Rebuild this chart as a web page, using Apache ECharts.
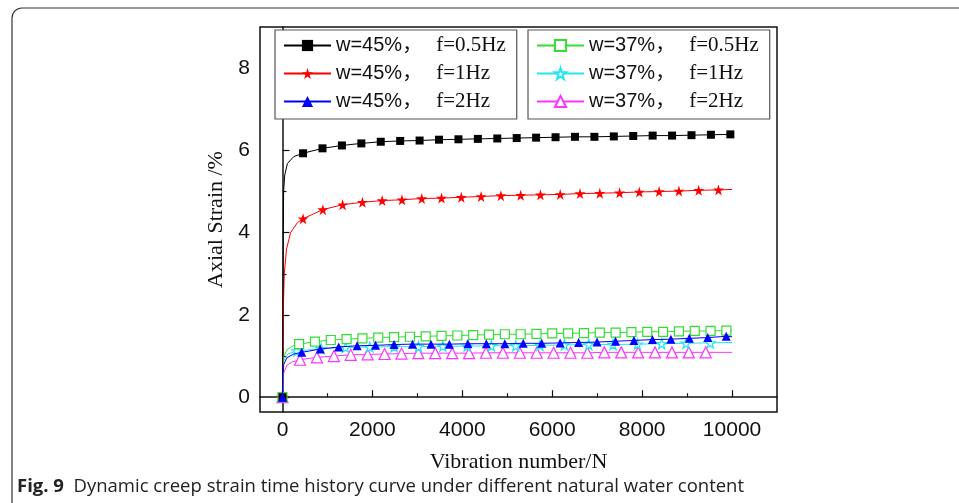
<!DOCTYPE html>
<html>
<head>
<meta charset="utf-8">
<script src="https://cdn.jsdelivr.net/npm/echarts@6/dist/echarts.min.js"></script>
<style>
  html, body { margin: 0; padding: 0; background: #fff; }
  #main { width: 959px; height: 503px; }
</style>
</head>
<body>
<div id="main"></div>
<script>
// legend text parts
var wLabels = ['w=45%', 'w=45%', 'w=45%', 'w=37%', 'w=37%', 'w=37%'];
var fLabels = ['f=0.5Hz', 'f=1Hz', 'f=2Hz', 'f=0.5Hz', 'f=1Hz', 'f=2Hz'];

var xTickLabels = [0, 2000, 4000, 6000, 8000, 10000];
var xMinorTicks = [1000, 3000, 5000, 7000, 9000];
var yTickLabels = [0, 2, 4, 6, 8];
var yMinorTicks = [1, 3, 5, 7];

// w=45%, f=0.5Hz
var head1X = [0, 10, 25, 50, 110, 250];
var head1Y = [0, 2.5, 5.0, 5.4, 5.68, 5.85];
var mark1X = [0, 458, 890, 1322, 1754, 2186, 2618, 3050, 3482, 3914, 4346, 4778, 5210, 5642, 6074, 6506, 6938, 7370, 7802, 8234, 8666, 9098, 9530, 9962];
var mark1Y = [0, 5.93, 6.05, 6.12, 6.17, 6.21, 6.23, 6.24, 6.26, 6.27, 6.28, 6.29, 6.30, 6.31, 6.32, 6.33, 6.33, 6.34, 6.35, 6.36, 6.36, 6.37, 6.38, 6.39];
var end1Y = 6.39;

// w=45%, f=1Hz
var head2X = [0, 15, 40, 90, 180, 330];
var head2Y = [0, 2.0, 3.0, 3.6, 4.0, 4.24];
var mark2X = [0, 458, 898, 1338, 1778, 2218, 2658, 3098, 3538, 3978, 4418, 4858, 5298, 5738, 6178, 6618, 7058, 7498, 7938, 8378, 8818, 9258, 9698];
var mark2Y = [0, 4.34, 4.56, 4.68, 4.74, 4.78, 4.80, 4.83, 4.84, 4.86, 4.88, 4.90, 4.91, 4.92, 4.93, 4.95, 4.96, 4.97, 4.99, 5.00, 5.01, 5.03, 5.04];
var end2Y = 5.05;

// w=45%, f=2Hz
var head3X = [0, 10, 30, 100, 250];
var head3Y = [0, 0.55, 0.8, 0.96, 1.05];
var mark3X = [0, 429, 840, 1250, 1661, 2071, 2482, 2892, 3303, 3713, 4124, 4534, 4945, 5355, 5766, 6176, 6587, 6997, 7408, 7818, 8229, 8639, 9050, 9460, 9871];
var mark3Y = [0, 1.09, 1.17, 1.22, 1.25, 1.26, 1.28, 1.29, 1.29, 1.29, 1.30, 1.30, 1.30, 1.31, 1.31, 1.32, 1.33, 1.34, 1.36, 1.38, 1.40, 1.41, 1.43, 1.45, 1.48];
var end3Y = 1.47;

// w=37%, f=0.5Hz
var head4X = [0, 10, 30, 100, 220];
var head4Y = [0, 0.7, 1.0, 1.15, 1.24];
var mark4X = [0, 370, 722, 1074, 1426, 1778, 2130, 2482, 2834, 3186, 3538, 3890, 4242, 4594, 4946, 5298, 5650, 6002, 6354, 6706, 7058, 7410, 7762, 8114, 8466, 8818, 9170, 9522, 9874];
var mark4Y = [0, 1.29, 1.35, 1.39, 1.41, 1.43, 1.45, 1.46, 1.47, 1.48, 1.49, 1.50, 1.51, 1.52, 1.53, 1.53, 1.54, 1.55, 1.55, 1.56, 1.57, 1.57, 1.58, 1.59, 1.59, 1.60, 1.61, 1.61, 1.62];
var end4Y = 1.62;

// w=37%, f=1Hz
var head5X = [0, 10, 30, 120];
var head5Y = [0, 0.6, 0.9, 1.05];
var mark5X = [0, 320, 861, 1402, 1943, 2484, 3025, 3566, 4107, 4648, 5189, 5730, 6271, 6812, 7353, 7894, 8435, 8976, 9517];
var mark5Y = [0, 1.12, 1.18, 1.21, 1.22, 1.23, 1.23, 1.24, 1.24, 1.25, 1.25, 1.26, 1.27, 1.28, 1.28, 1.29, 1.30, 1.31, 1.32];
var end5Y = 1.33;

// w=37%, f=2Hz
var head6X = [0, 10, 30, 100, 220];
var head6Y = [0, 0.4, 0.6, 0.78, 0.86];
var mark6X = [0, 391, 767, 1143, 1519, 1895, 2271, 2647, 3023, 3399, 3775, 4151, 4527, 4903, 5279, 5655, 6031, 6407, 6783, 7159, 7535, 7911, 8287, 8663, 9039, 9415];
var mark6Y = [0, 0.91, 0.97, 1.00, 1.03, 1.04, 1.05, 1.06, 1.07, 1.07, 1.07, 1.07, 1.08, 1.08, 1.08, 1.08, 1.08, 1.08, 1.08, 1.09, 1.09, 1.09, 1.09, 1.09, 1.09, 1.09];
var end6Y = 1.09;

var SANS = 'Liberation Sans, Arial, Noto Sans CJK SC, sans-serif';
var SERIF = 'Liberation Serif, Times New Roman, serif';
var STAR = 'path://M50,0 L61,35 L98,35 L68,57 L79,91 L50,70 L21,91 L32,57 L2,35 L39,35 Z';

// curve points (no symbol) + marker points + line end at 10000
function buildData(hx, hy, mx, my, endY) {
  var pts = [];
  for (var i = 0; i < mx.length; i++) {
    pts.push({ value: [mx[i], my[i]] });
  }
  for (var j = 1; j < hx.length; j++) {
    pts.push({ value: [hx[j], hy[j]], symbol: 'none' });
  }
  pts.push({ value: [10000, endY], symbol: 'none' });
  pts.sort(function (a, b) { return a.value[0] - b.value[0]; });
  return pts;
}

function makeSeries(i, data, color, symbol, size, hollow) {
  return {
    name: wLabels[i] + '，' + fLabels[i],
    type: 'line',
    data: data,
    symbol: symbol,
    symbolSize: size,
    showAllSymbol: true,
    lineStyle: { color: color, width: 1 },
    itemStyle: hollow ?
      { color: '#fff', borderColor: color, borderWidth: 1.2 } :
      { color: color, borderWidth: 0 },
    emphasis: { disabled: true },
    z: 10 - i
  };
}

var series = [
  makeSeries(0, buildData(head1X, head1Y, mark1X, mark1Y, end1Y), '#000000', 'rect', 8, false),
  makeSeries(1, buildData(head2X, head2Y, mark2X, mark2Y, end2Y), '#ff0000', STAR, 11, false),
  makeSeries(2, buildData(head3X, head3Y, mark3X, mark3Y, end3Y), '#0000ff', 'triangle', 9, false),
  makeSeries(3, buildData(head4X, head4Y, mark4X, mark4Y, end4Y), '#33dd33', 'rect', 9, true),
  makeSeries(4, buildData(head5X, head5Y, mark5X, mark5Y, end5Y), '#22e6f0', STAR, 10, true),
  makeSeries(5, buildData(head6X, head6Y, mark6X, mark6Y, end6Y), '#ff33ff', 'triangle', 11, true)
];
// blue should sit above cyan and pink
series[2].z = 12;

function legendBox(names, left) {
  return {
    data: names,
    orient: 'vertical',
    left: left,
    top: 30,
    padding: [5, 11, 7, 8],
    itemGap: 7,
    itemWidth: 47,
    itemHeight: 14,
    borderColor: '#555',
    borderWidth: 1.2,
    backgroundColor: '#fff',
    selectedMode: false,
    formatter: function (name) {
      var p = name.split('，');
      return '{a|' + p[0] + '，}{b|' + p[1] + '}';
    },
    textStyle: {
      rich: {
        a: { fontFamily: SANS, fontSize: 20, color: '#111', lineHeight: 22 },
        b: { fontFamily: SERIF, fontSize: 21, color: '#111', lineHeight: 22, padding: [0, 0, 0, 14] }
      }
    }
  };
}

var chart = echarts.init(document.getElementById('main'), null, { renderer: 'canvas' });

var option = {
  animation: false,
  backgroundColor: '#fff',
  grid: {
    left: 260, right: 182, top: 27, bottom: 91,
    show: true, borderColor: '#111', borderWidth: 1.5,
    containLabel: false, outerBoundsMode: 'none'
  },
  legend: [
    legendBox([series[0].name, series[1].name, series[2].name], 275),
    legendBox([series[3].name, series[4].name, series[5].name], 528)
  ],
  xAxis: [{
    type: 'value', min: -500, max: 11000,
    name: 'Vibration number/N', nameLocation: 'middle', nameGap: 39,
    nameTextStyle: { fontFamily: SERIF, fontSize: 22, color: '#111' },
    axisLine: { show: true, lineStyle: { color: '#111', width: 1.5 } },
    axisTick: { show: true, inside: true, length: 7, customValues: xTickLabels, lineStyle: { color: '#111', width: 1.2 } },
    axisLabel: {
      customValues: xTickLabels, margin: 8, fontFamily: SANS, fontSize: 21, color: '#111',
      formatter: function (v) { return String(v); }
    },
    splitLine: { show: false }
  }, {
    type: 'value', min: -500, max: 11000, position: 'bottom',
    axisLine: { show: false },
    axisTick: { show: true, inside: true, length: 4, customValues: xMinorTicks, lineStyle: { color: '#111', width: 1.2 } },
    axisLabel: { show: false },
    splitLine: { show: false }
  }],
  yAxis: [{
    type: 'value', min: -0.36, max: 9,
    name: 'Axial Strain /%', nameLocation: 'middle', nameGap: 19, nameRotate: 90,
    nameTextStyle: { fontFamily: SERIF, fontSize: 22, color: '#111' },
    axisLine: { show: true, lineStyle: { color: '#111', width: 1.5 } },
    axisTick: { show: true, inside: true, length: 7, customValues: yTickLabels, lineStyle: { color: '#111', width: 1.2 } },
    axisLabel: { customValues: yTickLabels, margin: 10, fontFamily: SANS, fontSize: 21, color: '#111' },
    splitLine: { show: false }
  }, {
    type: 'value', min: -0.36, max: 9, position: 'left',
    axisLine: { show: false },
    axisTick: { show: true, inside: true, length: 4, customValues: yMinorTicks, lineStyle: { color: '#111', width: 1.2 } },
    axisLabel: { show: false },
    splitLine: { show: false }
  }],
  series: series,
  graphic: [{
    // outer figure frame, cut off on the right and bottom
    type: 'rect',
    shape: { x: 12, y: 8, width: 1000, height: 600, r: 10 },
    style: { fill: null, stroke: '#333', lineWidth: 1.2 },
    silent: true
  }, {
    type: 'text',
    left: 17, top: 477,
    style: {
      text: '{b|Fig. 9}  Dynamic creep strain time history curve under different natural water content',
      fontFamily: 'Open Sans, Noto Sans, sans-serif',
      fontSize: 18.5,
      fill: '#222',
      rich: {
        b: { fontFamily: 'Open Sans, Noto Sans, sans-serif', fontSize: 18.5, fontWeight: 'bold', fill: '#222' }
      }
    }
  }]
};

chart.setOption(option);
</script>
</body>
</html>
